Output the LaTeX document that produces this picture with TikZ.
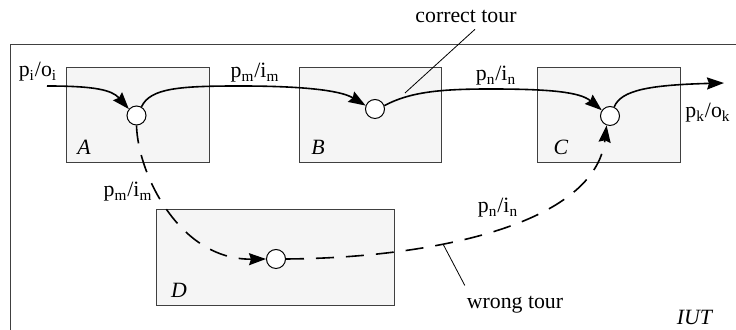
\documentclass[tikz,border=0pt]{standalone}
\usepackage{fontspec}
\setmainfont{Liberation Serif}
\usetikzlibrary{arrows.meta}
\newcommand{\trans}[4]{#1\textsubscript{#2}/#3\textsubscript{#4}}
\tikzset{
  unit/.style={draw=black!75, fill=black!4, line width=0.5pt, minimum height=47.5pt, inner sep=0pt},
  state/.style={circle, draw, fill=white, line width=0.5pt, minimum size=9.5pt, inner sep=0pt},
  tour/.style={line width=0.8pt, -{Stealth[length=8.5pt,width=6pt,inset=1pt]}},
  wrong/.style={tour, dash pattern=on 9pt off 6pt},
  leader/.style={line width=0.4pt},
}
\begin{document}
\begin{tikzpicture}[x=0.5pt, y=-0.5pt, font=\fontsize{10.9}{12}\selectfont]
\useasboundingbox (0,0) rectangle (736,330);
% implementation under test
\draw[black!75, line width=0.5pt] (11,330) -- (11,45) -- (736,45);
\node (iut) at (695,317) {\textit{IUT}};
% units
\node[unit, minimum width=71.5pt] (A) at (138.5,115.5) {};
\node[unit, minimum width=71pt] (B) at (371,115.5) {};
\node[unit, minimum width=71.5pt] (C) at (609.5,115.5) {};
\node[unit, minimum width=119pt, minimum height=48pt] (D) at (276,258) {};
\node (nA) at (84,147) {\textit{A}};
\node (nB) at (318,147) {\textit{B}};
\node (nC) at (561,147) {\textit{C}};
\node (nD) at (179,290) {\textit{D}};
% states
\node[state] (ca) at (136.5,115.5) {};
\node[state] (cb) at (375,109) {};
\node[state] (cc) at (610,116) {};
\node[state] (cd) at (276,259) {};
\coordinate (in) at (47,86);
\coordinate (out) at (724,83);
% correct tour
\draw[tour] (in) .. controls (95,86) and (112,90) .. (ca.140);
\draw[tour] (ca.60) .. controls (150,88) and (180,86) .. (240,86)
  .. controls (300,86) and (340,90) .. (cb.160);
\draw[tour] (cb.20) .. controls (410,92) and (440,89) .. (490,89)
  .. controls (550,89) and (580,92) .. (cc.145);
\draw[tour] (cc.65) .. controls (621,90) and (650,85) .. (out);
% wrong tour
\draw[wrong] (ca.south) .. controls (138,175) and (180,260) .. (cd.west);
\draw[wrong] (cd.east) .. controls (430,258) and (595,225) .. (cc.-110);
% labels
\node (l1) at (38,72) {\trans{p}{i}{o}{i}};
\node (l2) at (255,73) {\trans{p}{m}{i}{m}};
\node (l3) at (496,76) {\trans{p}{n}{i}{n}};
\node (l4) at (708,113) {\trans{p}{k}{o}{k}};
\node (l5) at (128,192) {\trans{p}{m}{i}{m}};
\node (l6) at (498,208) {\trans{p}{n}{i}{n}};
\node (ct) at (466,16) {correct tour};
\node (wt) at (515,305) {wrong tour};
\coordinate (cpt) at (405,93);
\coordinate (wpt) at (443,244);
\draw[leader] ([xshift=4.5pt]ct.south) -- (cpt);
\draw[leader] ([xshift=2.5pt,yshift=2pt]wt.north west) -- (wpt);
\end{tikzpicture}
\end{document}
